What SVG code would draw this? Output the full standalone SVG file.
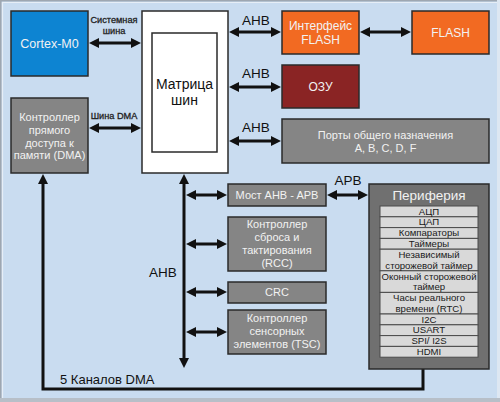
<svg xmlns="http://www.w3.org/2000/svg" width="500" height="402" viewBox="0 0 500 402">
<defs>
<marker id="ah" viewBox="0 0 10 10" refX="4" refY="5" markerWidth="10" markerHeight="10" markerUnits="userSpaceOnUse" orient="auto-start-reverse">
<path d="M0,0 L10,5 L0,10 z" fill="#111"/>
</marker>
</defs>
<style>
.box{stroke:#2a2a2a;stroke-width:1.5}
.gray{fill:#858585}
.t{font-family:"Liberation Sans",Arial,sans-serif;text-anchor:middle}
.w{fill:#f2f2f2}
.lbl{font-family:"Liberation Sans",Arial,sans-serif;fill:#111;text-anchor:middle}
.sm{font-size:9.2px;fill:#222;stroke:#222;stroke-width:0.3}
.c{fill:none;stroke:#111;stroke-width:3}
.row{fill:#d9d9d9;stroke:#4a4a4a;stroke-width:1}
.rt{font-family:"Liberation Sans",Arial,sans-serif;font-size:9.6px;fill:#1a1a1a;text-anchor:middle}
</style>
<rect x="0" y="0" width="500" height="402" fill="#c9dcf0"/>
<path d="M0.8,402 V0.8 H500" fill="none" stroke="#9ea7b1" stroke-width="1.6"/>
<path d="M2.5,398 V2.5 H497" fill="none" stroke="#e6eef7" stroke-width="1.2"/>
<rect x="0" y="398" width="500" height="4" fill="#b7bfc8"/>
<rect x="497" y="0" width="3" height="398" fill="#dde7f2"/>

<g id="connectors">
<line class="c" x1="95" y1="43" x2="135" y2="43" marker-start="url(#ah)" marker-end="url(#ah)"/>
<line class="c" x1="95" y1="128" x2="135" y2="128" marker-start="url(#ah)" marker-end="url(#ah)"/>
<line class="c" x1="235" y1="32" x2="275" y2="32" marker-start="url(#ah)" marker-end="url(#ah)"/>
<line class="c" x1="366" y1="32" x2="405" y2="32" marker-start="url(#ah)" marker-end="url(#ah)"/>
<line class="c" x1="235" y1="87" x2="275" y2="87" marker-start="url(#ah)" marker-end="url(#ah)"/>
<line class="c" x1="235" y1="141" x2="275" y2="141" marker-start="url(#ah)" marker-end="url(#ah)"/>
<line class="c" x1="184" y1="180" x2="184" y2="362" marker-start="url(#ah)" marker-end="url(#ah)"/>
<line class="c" x1="192" y1="195" x2="221" y2="195" marker-start="url(#ah)" marker-end="url(#ah)"/>
<line class="c" x1="192" y1="244" x2="221" y2="244" marker-start="url(#ah)" marker-end="url(#ah)"/>
<line class="c" x1="192" y1="292" x2="221" y2="292" marker-start="url(#ah)" marker-end="url(#ah)"/>
<line class="c" x1="192" y1="332" x2="221" y2="332" marker-start="url(#ah)" marker-end="url(#ah)"/>
<line class="c" x1="333" y1="195" x2="362" y2="195" marker-start="url(#ah)" marker-end="url(#ah)"/>
<polyline class="c" points="423,369 423,389 43,389 43,180" marker-end="url(#ah)"/>
<text class="lbl sm" x="114" y="23">Системная</text>
<text class="lbl sm" x="114" y="34">шина</text>
<text class="lbl sm" x="114" y="119">Шина DMA</text>
<g font-size="13.5">
<text class="lbl" x="256" y="25">AHB</text>
<text class="lbl" x="256" y="78">AHB</text>
<text class="lbl" x="256" y="132">AHB</text>
<text class="lbl" x="163" y="277">AHB</text>
<text class="lbl" x="348" y="185">APB</text>
</g>
<text class="lbl" x="60" y="384" font-size="13" style="text-anchor:start">5 Каналов DMA</text>
</g>

<g id="cortex">
<rect class="box" x="11" y="11" width="77" height="65" fill="#0d84d2"/>
<text class="t w" x="49.5" y="47.5" font-size="12.5">Cortex-M0</text>
</g>

<g id="dma">
<rect class="box gray" x="11" y="98" width="77" height="75"/>
<text class="t w" x="49.5" y="121" font-size="11">Контроллер</text>
<text class="t w" x="49.5" y="134" font-size="11">прямого</text>
<text class="t w" x="49.5" y="147" font-size="11">доступа к</text>
<text class="t w" x="49.5" y="159" font-size="11">памяти (DMA)</text>
</g>

<g id="matrix">
<rect class="box" x="142" y="11" width="86" height="162" fill="#fff"/>
<rect class="box" x="152" y="33" width="65" height="119" fill="#fff"/>
<text class="t" x="184.5" y="89" font-size="14" fill="#111">Матрица</text>
<text class="t" x="184.5" y="105" font-size="14" fill="#111">шин</text>
</g>

<g id="flash-if">
<rect class="box" x="282" y="11" width="77" height="43" fill="#f26a22"/>
<text class="t w" x="320.5" y="30" font-size="12">Интерфейс</text>
<text class="t w" x="320.5" y="44" font-size="12">FLASH</text>
</g>

<g id="flash">
<rect class="box" x="412" y="11" width="77" height="43" fill="#f26a22"/>
<text class="t w" x="450.5" y="37" font-size="12">FLASH</text>
</g>

<g id="ram">
<rect class="box" x="282" y="65" width="77" height="43" fill="#8a2424"/>
<text class="t w" x="320.5" y="91" font-size="12">ОЗУ</text>
</g>

<g id="ports">
<rect class="box gray" x="282" y="119" width="207" height="44"/>
<text class="t w" x="385.5" y="139" font-size="11">Порты общего назначения</text>
<text class="t w" x="385.5" y="152" font-size="11">A, B, C, D, F</text>
</g>

<g id="bridge">
<rect class="box gray" x="228" y="184" width="98" height="22"/>
<text class="t w" x="277" y="199" font-size="11">Мост AHB - APB</text>
</g>

<g id="rcc">
<rect class="box gray" x="228" y="217" width="98" height="54"/>
<text class="t w" x="277" y="228" font-size="11">Контроллер</text>
<text class="t w" x="277" y="241" font-size="11">сброса и</text>
<text class="t w" x="277" y="254" font-size="11">тактирования</text>
<text class="t w" x="277" y="267" font-size="11">(RCC)</text>
</g>

<g id="crc">
<rect class="box gray" x="228" y="282" width="98" height="21"/>
<text class="t w" x="277" y="296" font-size="11">CRC</text>
</g>

<g id="tsc">
<rect class="box gray" x="228" y="310" width="98" height="44"/>
<text class="t w" x="277" y="322" font-size="11">Контроллер</text>
<text class="t w" x="277" y="335" font-size="11">сенсорных</text>
<text class="t w" x="277" y="348" font-size="11">элементов (TSC)</text>
</g>

<g id="periphery">
<rect class="box" x="369" y="184" width="120" height="185" fill="#707070"/>
<text class="t w" x="429" y="200" font-size="13.5">Периферия</text>
<rect class="row" x="380" y="206" width="98" height="10.8"/>
<rect class="row" x="380" y="216.8" width="98" height="10.8"/>
<rect class="row" x="380" y="227.6" width="98" height="10.8"/>
<rect class="row" x="380" y="238.4" width="98" height="10.8"/>
<rect class="row" x="380" y="249.2" width="98" height="21.6"/>
<rect class="row" x="380" y="270.8" width="98" height="21.6"/>
<rect class="row" x="380" y="292.4" width="98" height="21.6"/>
<rect class="row" x="380" y="314" width="98" height="10.8"/>
<rect class="row" x="380" y="324.8" width="98" height="10.8"/>
<rect class="row" x="380" y="335.6" width="98" height="10.8"/>
<rect class="row" x="380" y="346.4" width="98" height="10.8"/>
<text class="rt" x="429" y="214.6">АЦП</text>
<text class="rt" x="429" y="225.4">ЦАП</text>
<text class="rt" x="429" y="236.2">Компараторы</text>
<text class="rt" x="429" y="247">Таймеры</text>
<text class="rt" x="429" y="258.2">Независимый</text>
<text class="rt" x="429" y="268.6">сторожевой таймер</text>
<text class="rt" x="429" y="279.8">Оконный сторожевой</text>
<text class="rt" x="429" y="290.2">таймер</text>
<text class="rt" x="429" y="301.4">Часы реального</text>
<text class="rt" x="429" y="311.8">времени (RTC)</text>
<text class="rt" x="429" y="322.6">I2C</text>
<text class="rt" x="429" y="333.4">USART</text>
<text class="rt" x="429" y="344.2">SPI/ I2S</text>
<text class="rt" x="429" y="355">HDMI</text>
</g>
</svg>
